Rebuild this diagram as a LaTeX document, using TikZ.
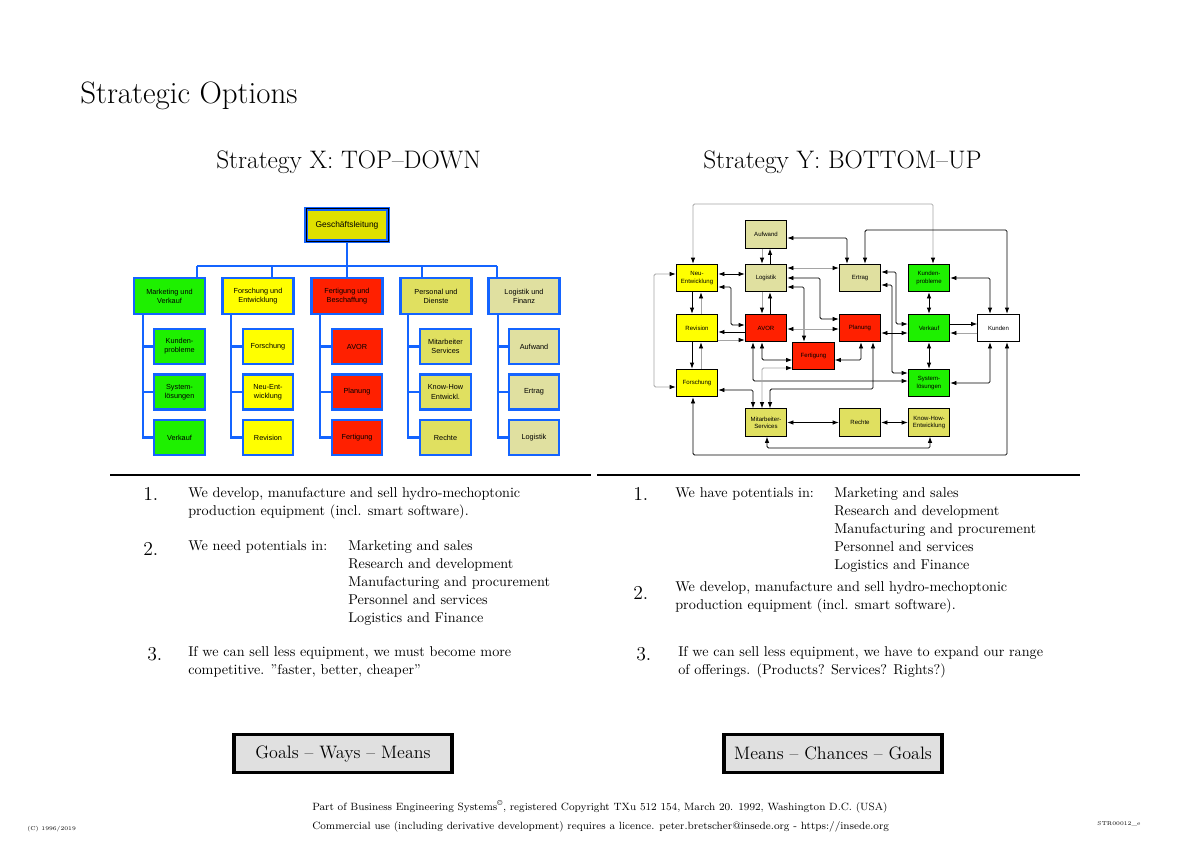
\documentclass[tikz,border=0pt]{standalone}
\usepackage{fontspec}
\setsansfont{Liberation Sans}
\usepackage{tikz}
\usetikzlibrary{arrows.meta}

\definecolor{orgblue}{RGB}{20,100,255}
\definecolor{grn}{RGB}{30,240,0}
\definecolor{yel}{RGB}{255,255,0}
\definecolor{rot}{RGB}{255,32,0}
\definecolor{khaki}{RGB}{224,224,96}
\definecolor{pale}{RGB}{224,224,160}
\definecolor{boss}{RGB}{224,224,0}
\definecolor{lgray}{RGB}{165,165,165}
\definecolor{boxgray}{RGB}{224,224,224}

\tikzset{
  orgbox/.style={draw=orgblue, line width=1.7pt, inner sep=0pt, align=center,
    font=\sffamily\fontsize{5.2}{6.5}\selectfont},
  dept/.style={orgbox, minimum width=1.78cm, minimum height=0.9cm},
  unit/.style={orgbox, minimum width=1.26cm, minimum height=0.88cm},
  bus/.style={draw=orgblue, line width=1.7pt},
  net/.style={draw=black, line width=0.7pt, minimum width=1.03cm, minimum height=0.68cm,
    inner sep=0pt, align=center, font=\sffamily\fontsize{4.3}{5.1}\selectfont},
  lk/.style={draw=black, line width=0.6pt, rounded corners=1pt,
    >={Latex[length=4.5pt,width=3.2pt]}},
  lg/.style={lk, draw=lgray, >={Latex[length=4.5pt,width=3.2pt,color=black]}},
  head/.style={anchor=base west, inner sep=0pt, font=\fontsize{18}{22}\selectfont},
  txt/.style={anchor=base west, inner sep=0pt, align=left, font=\fontsize{10.1}{12.8}\selectfont},
  num/.style={anchor=base west, inner sep=0pt, font=\fontsize{14}{16}\selectfont},
  motto/.style={draw=black, line width=2.2pt, fill=boxgray, minimum width=5.45cm,
    minimum height=0.95cm, font=\fontsize{12.8}{15}\selectfont},
  foot/.style={anchor=base west, inner sep=0pt, font=\fontsize{7.5}{9}\selectfont},
  tiny/.style={anchor=base west, inner sep=0pt, font=\fontsize{4}{5}\selectfont}
}

\begin{document}
\begin{tikzpicture}[x=0.025cm, y=-0.025cm]
  \useasboundingbox[fill=white] (0,0) rectangle (1200,848);

  % titles
  \node[anchor=base west, inner sep=0pt, font=\fontsize{22}{26}\selectfont] (title) at (80,103) {Strategic Options};
  \node[head] (hx) at (216,168) {Strategy X: TOP–DOWN};
  \node[head] (hy) at (703,168) {Strategy Y: BOTTOM–UP};

  % top-down organisation
  \node[orgbox, fill=boss, draw=orgblue, double=black, double distance=0.7pt, line width=1.1pt,
    minimum width=2.05cm, minimum height=0.82cm, font=\sffamily\fontsize{6}{7}\selectfont] (ceo) at (347,225) {Geschäftsleitung};

  \node[dept, fill=grn] (d1) at (169.5,296) {Marketing und\\Verkauf};
  \node[dept, fill=yel] (d2) at (258,296) {Forschung und\\Entwicklung};
  \node[dept, fill=rot] (d3) at (347,296) {Fertigung und\\Beschaffung};
  \node[dept, fill=khaki] (d4) at (436,296) {Personal und\\Dienste};
  \node[dept, fill=pale] (d5) at (524,296) {Logistik und\\Finanz};

  \node[unit, fill=grn] (s11) at (179.5,346.5) {Kunden-\\probleme};
  \node[unit, fill=grn] (s12) at (179.5,392) {System-\\lösungen};
  \node[unit, fill=grn] (s13) at (179.5,437.5) {Verkauf};
  \node[unit, fill=yel] (s21) at (268,346.5) {Forschung};
  \node[unit, fill=yel] (s22) at (268,392) {Neu-Ent-\\wicklung};
  \node[unit, fill=yel] (s23) at (268,437.5) {Revision};
  \node[unit, fill=rot] (s31) at (357,346.5) {AVOR};
  \node[unit, fill=rot] (s32) at (357,392) {Planung};
  \node[unit, fill=rot] (s33) at (357,437.5) {Fertigung};
  \node[unit, fill=khaki] (s41) at (445.5,346.5) {Mitarbeiter\\Services};
  \node[unit, fill=khaki] (s42) at (445.5,392) {Know-How\\Entwickl.};
  \node[unit, fill=khaki] (s43) at (445.5,437.5) {Rechte};
  \node[unit, fill=pale] (s51) at (534,346.5) {Aufwand};
  \node[unit, fill=pale] (s52) at (534,392) {Ertrag};
  \node[unit, fill=pale] (s53) at (534,437.5) {Logistik};

  % blue lines
  \draw[bus] (ceo.south) -- (347,266);
  \draw[bus] (197,266) -- (497,266);
  \foreach \i/\x in {1/197,2/272,3/347,4/422,5/497}
    \draw[bus] (\x,266) -- (d\i.north -| \x,0);
  \foreach \i/\x in {1/143,2/231,3/320,4/408,5/498}{
    \draw[bus] (d\i.south -| \x,0) |- (s\i3.west);
    \draw[bus] (\x,0 |- s\i1.west) -- (s\i1.west);
    \draw[bus] (\x,0 |- s\i2.west) -- (s\i2.west);
  }

  % bottom-up network
  \node[net, fill=pale] (auf) at (766,234.5) {Aufwand};
  \node[net, fill=yel] (neu) at (697,278) {Neu-\\Entwicklung};
  \node[net, fill=pale] (logi) at (766,278) {Logistik};
  \node[net, fill=pale] (ert) at (860,278) {Ertrag};
  \node[net, fill=grn] (kpr) at (929,278) {Kunden-\\probleme};
  \node[net, fill=yel] (rev) at (697,328) {Revision};
  \node[net, fill=rot] (avor) at (766,328) {AVOR};
  \node[net, fill=rot] (plan) at (860,328) {Planung};
  \node[net, fill=grn] (verk) at (929,328) {Verkauf};
  \node[net, fill=white] (kund) at (998.5,328) {Kunden};
  \node[net, fill=rot] (fert) at (813.5,356) {Fertigung};
  \node[net, fill=yel] (fsg) at (697,383) {Forschung};
  \node[net, fill=grn] (syst) at (929,383) {System-\\lösungen};
  \node[net, fill=khaki] (mit) at (766,422.5) {Mitarbeiter-\\Services};
  \node[net, fill=khaki] (recht) at (860,422.5) {Rechte};
  \node[net, fill=khaki] (khow) at (929,422.5) {Know-How-\\Entwicklung};

  % outer loops
  \draw[lg,<->] (neu.north -| 693,0) -- (693,204) -| (kpr.north -| 933,0);
  \draw[lk,<->] (fsg.south -| 693,0) -- (693,455) -| (kund.south -| 1007,0);
  \draw[lk,<->] (ert.north -| 865,0) -- (865,230) -| (kund.north -| 1007,0);
  \draw[lk,<->] (auf.east |- 0,238) -| (ert.north -| 847,0);
  \draw[lg,<->] (neu.west |- 0,274) -- (654,274) -- (654,387) -- (fsg.west |- 0,387);

  % vertical pairs
  \draw[lg,->] (auf.south -| 762,0) -- (logi.north -| 762,0);
  \draw[lk,->] (logi.north -| 770,0) -- (auf.south -| 770,0);
  \draw[lg,->] (logi.south -| 762,0) -- (avor.north -| 762,0);
  \draw[lk,->] (avor.north -| 770,0) -- (logi.south -| 770,0);
  \draw[lk,->] (neu.south -| 692,0) -- (rev.north -| 692,0);
  \draw[lg,->] (rev.north -| 701,0) -- (neu.south -| 701,0);
  \draw[lk,->] (rev.south -| 692,0) -- (fsg.north -| 692,0);
  \draw[lg,->] (fsg.north -| 701,0) -- (rev.south -| 701,0);
  \draw[lk,<->] (kpr.south) -- (verk.north);
  \draw[lk,<->] (verk.south) -- (syst.north);

  % links between rows
  \draw[lk,<->] (neu.east |- 0,274) -- (logi.west |- 0,274);
  \draw[lg,<->] (logi.east |- 0,268) -- (ert.west |- 0,268);
  \draw[lk,<->] (logi.east |- 0,278) -| (820,319) -- (plan.west |- 0,319);
  \draw[lk,<->] (logi.east |- 0,287) -| (fert.north -| 804,0);
  \draw[lk,<->] (neu.east |- 0,287) -| (731,325) -- (avor.west |- 0,325);
  \draw[lk,->] (avor.west |- 0,332) -- (rev.east |- 0,332);
  \draw[lg,->] (rev.east |- 0,340) -- (avor.west |- 0,340);
  \draw[lk,<->] (fsg.east |- 0,390) -| (mit.north -| 753,0);
  \draw[lk,<->] (avor.south -| 753,0) |- (syst.west |- 0,381);
  \draw[lk,<->] (avor.south -| 762,0) |- (fert.west |- 0,360);
  \draw[lg,<->] (mit.north -| 762,0) |- (fert.west |- 0,368);
  \draw[lk,<->] (mit.north -| 770,0) |- (873,389) -- (plan.south -| 873,0);
  \draw[lk,<->] (plan.south -| 861,0) |- (fert.east |- 0,360);
  \draw[lg,<->] (avor.east |- 0,329) -- (plan.west |- 0,329);
  \draw[lk,<->] (plan.east |- 0,333) -- (verk.west |- 0,333);
  \draw[lk,<->] (ert.east |- 0,272) -| (896,324) -- (verk.west |- 0,324);
  \draw[lk,<->] (ert.east |- 0,285) -| (892,373) -- (syst.west |- 0,373);
  \draw[lk,<->] (kpr.east |- 0,278) -| (kund.north -| 990,0);
  \draw[lk,<->] (syst.east |- 0,383) -| (kund.south -| 990,0);
  \draw[lk,->] (verk.east |- 0,324) -- (kund.west |- 0,324);
  \draw[lg,->] (kund.west |- 0,333) -- (verk.east |- 0,333);
  \draw[lk,<->] (mit.east) -- (recht.west);
  \draw[lk,<->] (recht.east) -- (khow.west);
  \draw[lk,<->] (mit.south -| 767,0) -- (767,448) -| (khow.south -| 930,0);

  % rules
  \draw[line width=0.8pt] (110,475) -- (591,475);
  \draw[line width=0.8pt] (597,475) -- (1080,475);

  % strategy X text (base = last line)
  \node[num] (x1) at (143,500) {1.};
  \node[txt] (xt1) at (188,515) {We develop, manufacture and sell hydro-mechoptonic\\production equipment (incl. smart software).};
  \node[num] (x2) at (143,555) {2.};
  \node[txt] (xt2) at (188,550) {We need potentials in:};
  \node[txt] (xl2) at (348,622) {Marketing and sales\\Research and development\\Manufacturing and procurement\\Personnel and services\\Logistics and Finance};
  \node[num] (x3) at (147,660) {3.};
  \node[txt] (xt3) at (188,674) {If we can sell less equipment, we must become more\\competitive. "faster, better, cheaper"};

  % strategy Y text
  \node[num] (y1) at (633,500) {1.};
  \node[txt] (yt1) at (675,497) {We have potentials in:};
  \node[txt] (yl1) at (834,569) {Marketing and sales\\Research and development\\Manufacturing and procurement\\Personnel and services\\Logistics and Finance};
  \node[num] (y2) at (633,599) {2.};
  \node[txt] (yt2) at (675,609) {We develop, manufacture and sell hydro-mechoptonic\\production equipment (incl. smart software).};
  \node[num] (y3) at (636,660) {3.};
  \node[txt] (yt3) at (678,674) {If we can sell less equipment, we have to expand our range\\of offerings. (Products? Services? Rights?)};

  % mottos
  \node[motto] (gx) at (343,753.5) {Goals – Ways – Means};
  \node[motto] (gy) at (833,753.5) {Means – Chances – Goals};

  % footer
  \node[foot] (f1) at (312,810) {Part of Business Engineering Systems\textsuperscript{\copyright}, registered Copyright TXu 512 154, March 20. 1992, Washington D.C. (USA)};
  \node[foot] (f2) at (312,829) {Commercial use (including derivative development) requires a licence. peter.bretscher@insede.org - https://insede.org};
  \node[tiny] (cr) at (27,830) {(C) 1996/2019};
  \node[tiny] (id) at (1097,825) {STR00012\_e};
\end{tikzpicture}
\end{document}
